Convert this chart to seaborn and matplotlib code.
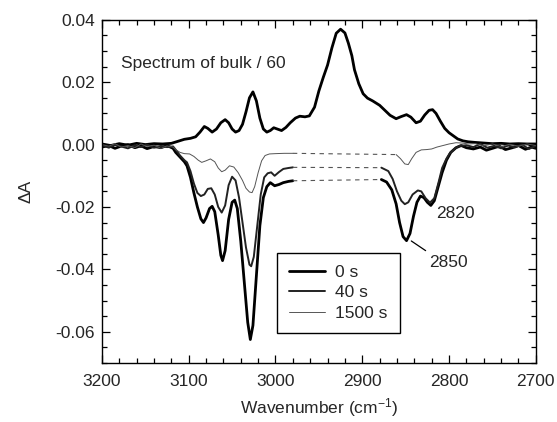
import matplotlib
matplotlib.use("Agg")
import matplotlib.pyplot as plt
import seaborn as sns
from matplotlib.ticker import MultipleLocator
from matplotlib.lines import Line2D

# ---------------- data ----------------
bulk_wn = [3200, 3190, 3180, 3170, 3160, 3150, 3140, 3130, 3120, 3113, 3105, 3098, 3092, 3087,
           3082, 3078, 3073, 3068, 3063, 3058, 3054, 3050, 3046, 3042, 3038, 3034, 3030, 3026,
           3022, 3018, 3014, 3010, 3006, 3002, 2998, 2993, 2988, 2983, 2977, 2972, 2966, 2961,
           2955, 2950, 2945, 2940, 2935, 2930, 2925, 2920, 2916, 2912, 2909, 2904, 2899, 2894,
           2888, 2880, 2874, 2868, 2861, 2855, 2849, 2844, 2838, 2833, 2828, 2823, 2819, 2815,
           2810, 2805, 2800, 2795, 2790, 2784, 2778, 2770, 2760, 2750, 2740, 2730, 2720, 2710, 2700]
bulk_val = [0.0002, -0.0003, 0.0003, -0.0002, 0.0004, 0.0000, 0.0003, 0.0002, 0.0004, 0.0010,
            0.0017, 0.0020, 0.0025, 0.0040, 0.0058, 0.0052, 0.0040, 0.0050, 0.0070, 0.0080,
            0.0070, 0.0050, 0.0040, 0.0045, 0.0065, 0.0105, 0.0150, 0.0169, 0.0140, 0.0085,
            0.0050, 0.0040, 0.0045, 0.0054, 0.0050, 0.0045, 0.0055, 0.0070, 0.0085, 0.0091,
            0.0089, 0.0092, 0.0120, 0.0172, 0.0215, 0.0255, 0.0310, 0.0357, 0.0370, 0.0358,
            0.0325, 0.0285, 0.0240, 0.0195, 0.0163, 0.0149, 0.0140, 0.0126, 0.0110, 0.0094,
            0.0083, 0.0090, 0.0096, 0.0088, 0.0070, 0.0075, 0.0095, 0.0110, 0.0112, 0.0100,
            0.0075, 0.0052, 0.0038, 0.0028, 0.0018, 0.0012, 0.0009, 0.0007, 0.0005, 0.0003,
            0.0004, 0.0002, 0.0003, 0.0002, 0.0002]

# 0 s
t0_left_wn = [3200, 3192, 3185, 3178, 3170, 3162, 3155, 3148, 3140, 3132, 3125, 3118, 3115, 3110,
              3105, 3102, 3098, 3094, 3090, 3086, 3083, 3080, 3076, 3073, 3070, 3066, 3063, 3061,
              3058, 3054, 3050, 3047, 3044, 3040, 3036, 3032, 3029, 3026, 3022, 3018, 3014, 3010,
              3006, 3001, 2996, 2991, 2985, 2980]
t0_left_val = [-0.0008, -0.0003, -0.0012, -0.0005, 0.0000, -0.0010, -0.0004, -0.0013, -0.0006,
               -0.0010, -0.0003, -0.0012, -0.0025, -0.0040, -0.0055, -0.0068, -0.0105, -0.0155,
               -0.0200, -0.0238, -0.0250, -0.0235, -0.0205, -0.0198, -0.0215, -0.0290, -0.0355,
               -0.0372, -0.0340, -0.0240, -0.0185, -0.0178, -0.0205, -0.0310, -0.0440, -0.0570,
               -0.0625, -0.0580, -0.0420, -0.0260, -0.0170, -0.0135, -0.0122, -0.0132, -0.0128,
               -0.0122, -0.0118, -0.0116]
t0_right_wn = [2878, 2872, 2866, 2861, 2857, 2853, 2849, 2845, 2841, 2837, 2833, 2829, 2825, 2821,
               2817, 2813, 2808, 2803, 2798, 2792, 2786, 2780, 2772, 2764, 2757, 2750, 2742, 2735,
               2727, 2720, 2712, 2705, 2700]
t0_right_val = [-0.0112, -0.0120, -0.0145, -0.0190, -0.0250, -0.0295, -0.0308, -0.0285, -0.0230,
                -0.0185, -0.0165, -0.0170, -0.0185, -0.0195, -0.0180, -0.0140, -0.0090, -0.0050,
                -0.0025, -0.0010, -0.0003, -0.0010, -0.0014, -0.0008, -0.0018, -0.0012, -0.0005,
                -0.0016, -0.0010, -0.0003, -0.0015, -0.0008, -0.0012]

# 40 s
t40_left_wn = [3200, 3192, 3185, 3178, 3170, 3162, 3155, 3148, 3140, 3132, 3125, 3118, 3114, 3110,
               3105, 3102, 3098, 3094, 3090, 3086, 3082, 3078, 3074, 3070, 3066, 3062, 3058, 3054,
               3050, 3046, 3042, 3038, 3034, 3030, 3028, 3025, 3021, 3017, 3013, 3009, 3005, 3001,
               2996, 2991, 2985, 2980]
t40_left_val = [-0.0002, -0.0010, 0.0000, -0.0006, -0.0012, -0.0002, -0.0008, 0.0000, -0.0010,
                -0.0004, -0.0008, -0.0006, -0.0020, -0.0035, -0.0050, -0.0057, -0.0085, -0.0125,
                -0.0155, -0.0165, -0.0160, -0.0142, -0.0140, -0.0160, -0.0200, -0.0218, -0.0195,
                -0.0130, -0.0103, -0.0115, -0.0170, -0.0250, -0.0330, -0.0385, -0.0390, -0.0360,
                -0.0260, -0.0160, -0.0105, -0.0092, -0.0089, -0.0100, -0.0088, -0.0078, -0.0075,
                -0.0073]
t40_right_wn = [2878, 2870, 2865, 2860, 2855, 2851, 2847, 2842, 2836, 2832, 2827, 2822, 2817, 2812,
                2808, 2803, 2799, 2793, 2788, 2780, 2772, 2764, 2756, 2748, 2740, 2732, 2724, 2716,
                2708, 2700]
t40_right_val = [-0.0074, -0.0085, -0.0110, -0.0150, -0.0180, -0.0191, -0.0185, -0.0160, -0.0147,
                 -0.0150, -0.0172, -0.0186, -0.0172, -0.0120, -0.0075, -0.0045, -0.0027, -0.0012,
                 -0.0004, -0.0002, -0.0008, 0.0002, -0.0010, -0.0004, -0.0012, -0.0003, -0.0009,
                 0.0000, -0.0014, -0.0004]

# 1500 s
t1500_left_wn = [3200, 3192, 3185, 3178, 3170, 3162, 3155, 3148, 3140, 3132, 3125, 3118, 3114,
                 3110, 3105, 3099, 3094, 3089, 3085, 3080, 3075, 3070, 3066, 3062, 3058, 3053,
                 3048, 3043, 3038, 3034, 3030, 3027, 3024, 3020, 3016, 3012, 3007, 3000, 2990, 2980]
t1500_left_val = [0.0000, -0.0005, 0.0003, -0.0008, -0.0003, -0.0010, 0.0002, -0.0006, -0.0002,
                  -0.0012, -0.0004, -0.0008, -0.0018, -0.0025, -0.0029, -0.0030, -0.0038, -0.0050,
                  -0.0057, -0.0052, -0.0046, -0.0055, -0.0075, -0.0087, -0.0082, -0.0068, -0.0072,
                  -0.0090, -0.0115, -0.0140, -0.0152, -0.0154, -0.0135, -0.0090, -0.0052, -0.0035,
                  -0.0030, -0.0029, -0.0028, -0.0028]
t1500_right_wn = [2861, 2856, 2851, 2847, 2843, 2838, 2832, 2826, 2820, 2814, 2807, 2800, 2792,
                  2785, 2778, 2770, 2760, 2750, 2740, 2730, 2720, 2710, 2700]
t1500_right_val = [-0.0032, -0.0045, -0.0062, -0.0064, -0.0045, -0.0025, -0.0017, -0.0016,
                   -0.0014, -0.0008, -0.0003, 0.0002, 0.0006, 0.0005, 0.0002, 0.0003, -0.0004,
                   0.0002, -0.0006, 0.0001, -0.0005, 0.0002, -0.0003]

series_labels = ["0 s", "40 s", "1500 s"]
x_ticks = [3200, 3100, 3000, 2900, 2800, 2700]
y_ticks = [-0.06, -0.04, -0.02, 0.00, 0.02, 0.04]

# ---------------- figure ----------------
sns.set_style("ticks")
plt.rcParams["font.family"] = ["Liberation Sans", "DejaVu Sans"]
plt.rcParams["mathtext.fontset"] = "custom"
plt.rcParams["mathtext.rm"] = "Liberation Sans"
plt.rcParams["mathtext.it"] = "Liberation Sans"

FS = 12.5

fig, ax = plt.subplots(figsize=(5.57, 4.22), dpi=100)
fig.subplots_adjust(left=0.183, right=0.962, top=0.953, bottom=0.140)

styles = [
    dict(color="black", lw=2.0),
    dict(color="#222222", lw=1.4),
    dict(color="#555555", lw=0.7),
]
groups = [
    (t0_left_wn, t0_left_val, t0_right_wn, t0_right_val),
    (t40_left_wn, t40_left_val, t40_right_wn, t40_right_val),
    (t1500_left_wn, t1500_left_val, t1500_right_wn, t1500_right_val),
]

# bulk spectrum
sns.lineplot(x=bulk_wn, y=bulk_val, ax=ax, sort=False, estimator=None,
             color="black", lw=2.0)

for (lw_, lv_, rw_, rv_), st in zip(groups, styles):
    sns.lineplot(x=lw_, y=lv_, ax=ax, sort=False, estimator=None, **st)
    sns.lineplot(x=rw_, y=rv_, ax=ax, sort=False, estimator=None, **st)
    sns.lineplot(x=[lw_[-1], rw_[0]], y=[lv_[-1], rv_[0]], ax=ax, sort=False,
                 estimator=None, color="#555555", lw=0.8, dashes=False,
                 linestyle=(0, (4, 4)))

ax.set_xlim(3200, 2700)
ax.set_ylim(-0.07, 0.04)
ax.set_xticks(x_ticks)
ax.set_yticks(y_ticks)
ax.set_yticklabels([f"{v:.2f}" for v in y_ticks])
ax.xaxis.set_minor_locator(MultipleLocator(20))
ax.yaxis.set_minor_locator(MultipleLocator(0.005))
ax.tick_params(which="both", direction="in", top=True, right=True, labelsize=FS,
               color="black", width=0.9)
ax.tick_params(which="major", length=6)
ax.tick_params(axis="x", which="major", pad=8)
ax.tick_params(axis="y", which="major", pad=5)
ax.tick_params(which="minor", length=3.5)
for sp in ax.spines.values():
    sp.set_linewidth(1.0)
    sp.set_color("black")

ax.set_xlabel("Wavenumber (cm$^{-1}$)", fontsize=FS, labelpad=5)
ax.set_ylabel("ΔA", fontsize=FS, labelpad=16)

ax.text(0.043, 0.872, "Spectrum of bulk / 60", transform=ax.transAxes,
        fontsize=FS, va="center", ha="left")
ax.text(2793, -0.0222, "2820", fontsize=FS, ha="center", va="center")
ax.text(2801, -0.0377, "2850", fontsize=FS, ha="center", va="center")
ax.annotate("", xy=(2843.5, -0.0309), xytext=(2827, -0.0340),
            arrowprops=dict(arrowstyle="-", color="black", lw=0.9,
                            shrinkA=0, shrinkB=0))

handles = [Line2D([], [], **st) for st in styles]
leg = ax.legend(handles, series_labels, loc="upper left", bbox_to_anchor=(0.403, 0.321),
                frameon=True, fancybox=False, edgecolor="black", framealpha=1,
                fontsize=FS, handlelength=2.1, handletextpad=0.57, labelspacing=0.3,
                borderpad=0.7, borderaxespad=0)
leg.get_frame().set_linewidth(1.0)

fig.savefig("out.png", dpi=100)
